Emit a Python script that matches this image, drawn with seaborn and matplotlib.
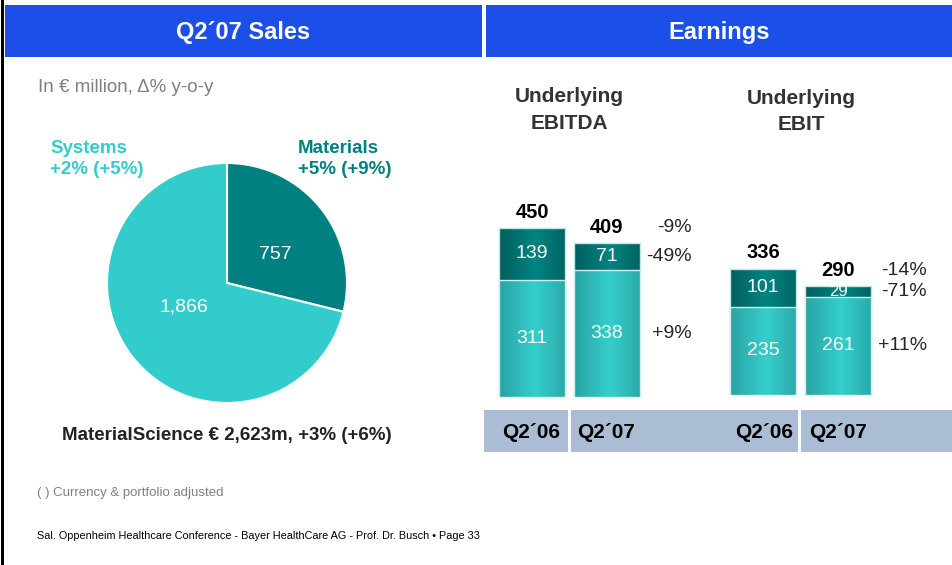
import matplotlib
matplotlib.use("Agg")
import numpy as np
import matplotlib.pyplot as plt
from matplotlib.patches import Rectangle
from matplotlib.colors import LinearSegmentedColormap
import seaborn as sns

# --- data ---
pie_labels = ["Materials", "Systems"]
pie_values = [757, 1866]
pie_value_text = ["757", "1,866"]

periods = ["Q2´06", "Q2´07"]
ebitda_materials = [311, 338]
ebitda_systems = [139, 71]
ebitda_change = ["-9%", "-49%", "+9%"]

ebit_materials = [235, 261]
ebit_systems = [101, 29]
ebit_change = ["-14%", "-71%", "+11%"]

W, H = 952, 565
BLUE = "#1c4fe8"
DARK = "#008080"
LIGHT = "#33cccc"
BAND = "#aabdd4"

# shading used to give the bars their rounded look
dark_cmap = LinearSegmentedColormap.from_list("d", ["#008482", "#005f5d"])
light_cmap = LinearSegmentedColormap.from_list("l", ["#35cfcd", "#29a3a3"])

sns.set_style("white")
plt.rcParams["font.family"] = ["Liberation Sans", "DejaVu Sans"]

fig = plt.figure(figsize=(W / 100, H / 100), dpi=100)


def box(l, t, w, h):
    return [l / W, 1 - (t + h) / H, w / W, h / H]


def ftext(x, y, s, **kw):
    fig.text(x / W, 1 - y / H, s, **kw)


def frect(x, y, w, h, color):
    fig.add_artist(Rectangle((x / W, 1 - (y + h) / H), w / W, h / H,
                             transform=fig.transFigure, color=color, lw=0))


# header bars and frame
frect(1, 0, 3, H, "black")
frect(5, 5, 477, 52, BLUE)
frect(486, 5, 466, 52, BLUE)
ftext(243, 32, "Q2´07 Sales", color="white", fontsize=17, fontweight="bold",
      ha="center", va="center")
ftext(719, 32, "Earnings", color="white", fontsize=17, fontweight="bold",
      ha="center", va="center")

# grey band under the bars
frect(484, 410, 468, 42, BAND)
frect(568, 410, 3, 42, "white")
frect(798, 410, 3, 42, "white")

# --- pie ---
ax_pie = fig.add_axes(box(107, 163, 240, 240))
wedges, _ = ax_pie.pie(pie_values, colors=[DARK, LIGHT], startangle=90,
                       counterclock=False,
                       wedgeprops=dict(edgecolor="white", linewidth=1.5))
ax_pie.set_xlim(-1, 1)
ax_pie.set_ylim(-1, 1)
ax_pie.set_aspect("equal")
ax_pie.axis("off")
ax_pie.text(0.4, 0.24, pie_value_text[0], color="white", fontsize=14,
            ha="center", va="center")
ax_pie.text(-0.36, -0.2, pie_value_text[1], color="white", fontsize=14,
            ha="center", va="center")

ftext(38, 87, "In € million, Δ% y-o-y", color="#808080", fontsize=13.5,
      va="center")
ftext(50, 148, "Systems", color=LIGHT, fontsize=13.5, fontweight="bold", va="center")
ftext(50, 170, "+2% (+5%)", color=LIGHT, fontsize=13.5, fontweight="bold", va="center")
ftext(298, 148, "Materials", color=DARK, fontsize=13.5, fontweight="bold", va="center")
ftext(298, 170, "+5% (+9%)", color=DARK, fontsize=13.5, fontweight="bold", va="center")
ftext(227, 435, "MaterialScience € 2,623m, +3% (+6%)", color="#222222",
      fontsize=13.5, fontweight="bold", ha="center", va="center")


def shade(ax, patch, cmap, z):
    x, y = patch.get_x(), patch.get_y()
    w, h = patch.get_width(), patch.get_height()
    t = np.linspace(-1, 1, 64)
    grad = np.abs(t - 0.1)[None, :]
    im = ax.imshow(grad, extent=[x, x + w, y, y + h], aspect="auto",
                   cmap=cmap, vmin=0, vmax=1.1, zorder=z,
                   interpolation="bilinear")
    im.set_clip_path(patch)
    patch.set_facecolor("none")
    patch.set_zorder(z + 0.05)


# --- stacked bars ---
def stacked(ax, bottom, top, changes, pct_x):
    totals = [b + t for b, t in zip(bottom, top)]
    sns.barplot(x=periods, y=totals, color=DARK, saturation=1, width=0.88,
                edgecolor="#bfe6e6", linewidth=1, ax=ax)
    n = len(ax.patches)
    sns.barplot(x=periods, y=bottom, color=LIGHT, saturation=1, width=0.88,
                edgecolor="#cdeeee", linewidth=1, ax=ax)
    for k, p in enumerate(list(ax.patches)):
        if k < n:
            shade(ax, p, dark_cmap, 1.5)
        else:
            shade(ax, p, light_cmap, 1.7)
    ax.set_xlim(-0.6, 1.6)
    ax.set_ylim(0, 500)
    ax.axis("off")
    for i in range(len(periods)):
        ax.text(i, bottom[i] / 2, str(bottom[i]), color="white", fontsize=14,
                ha="center", va="center", zorder=3)
        fs = 14 if top[i] > 50 else 12
        ax.text(i, bottom[i] + top[i] / 2, str(top[i]), color="white",
                fontsize=fs, ha="center", va="center", zorder=3)
        ax.text(i, totals[i] + 42, str(totals[i]), color="black", fontsize=14.5,
                fontweight="bold", ha="center", va="center")
    ax.text(pct_x, totals[1] + 42, changes[0], fontsize=14, ha="right",
            va="center", clip_on=False)
    ax.text(pct_x, bottom[1] + top[1] / 2, changes[1], fontsize=14, ha="right",
            va="center", clip_on=False)
    ax.text(pct_x, bottom[1] / 2, changes[2], fontsize=14, ha="right",
            va="center", clip_on=False)


ax1 = fig.add_axes(box(487, 209, 165, 188))
stacked(ax1, ebitda_materials, ebitda_systems, ebitda_change, 2.13)
ax2 = fig.add_axes(box(718, 207, 165, 188))
stacked(ax2, ebit_materials, ebit_systems, ebit_change, 2.19)

ftext(569, 97, "Underlying", color="#333333", fontsize=15, fontweight="bold",
      ha="center", va="center")
ftext(569, 124, "EBITDA", color="#333333", fontsize=15, fontweight="bold",
      ha="center", va="center")
ftext(801, 98, "Underlying", color="#333333", fontsize=15, fontweight="bold",
      ha="center", va="center")
ftext(801, 125, "EBIT", color="#333333", fontsize=15, fontweight="bold",
      ha="center", va="center")

for cx, lab in zip([531, 606, 764, 838], periods * 2):
    ftext(cx, 433, lab, color="black", fontsize=15, fontweight="bold",
          ha="center", va="center")

ftext(37, 493, "( ) Currency & portfolio adjusted", color="#808080",
      fontsize=9.5, va="center")
ftext(37, 536, "Sal. Oppenheim Healthcare Conference - Bayer HealthCare AG - "
      "Prof. Dr. Busch • Page 33", color="black", fontsize=7.8, va="center")

fig.savefig("out.png", dpi=100)
